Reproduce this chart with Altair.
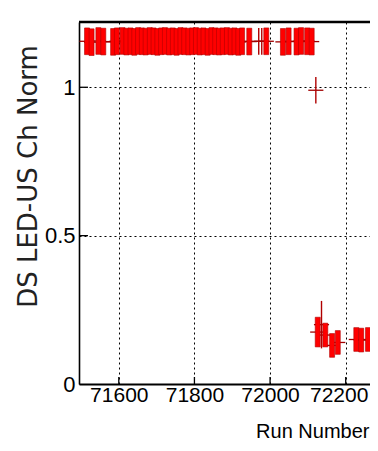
import altair as alt
import pandas as pd

# ---- data ----
# filled (box) points, upper band
top_runs = [71516, 71528, 71546, 71559, 71585, 71595,
            71610, 71620, 71631, 71641, 71651, 71661, 71671, 71682, 71692, 71702,
            71712, 71722, 71733, 71743, 71753, 71763, 71773, 71784, 71794, 71804,
            71814, 71824, 71835, 71845, 71855, 71865, 71875, 71886, 71896, 71906,
            71916, 71926, 71945, 71990, 72034, 72049, 72070, 72082, 72098, 72110]
top_vals = [1.155, 1.152, 1.156, 1.154, 1.153, 1.155,
            1.156, 1.154, 1.155, 1.153, 1.156, 1.155, 1.154, 1.156, 1.155, 1.153,
            1.155, 1.156, 1.154, 1.155, 1.153, 1.156, 1.155, 1.154, 1.155, 1.156,
            1.154, 1.155, 1.153, 1.156, 1.155, 1.154, 1.155, 1.156, 1.154, 1.155,
            1.153, 1.155, 1.154, 1.155, 1.153, 1.155, 1.154, 1.156, 1.155, 1.154]
top_errs = [0.045] * len(top_runs)

# filled (box) points, lower group
low_runs = [72126, 72146, 72164, 72179, 72228, 72241, 72259]
low_vals = [0.175, 0.165, 0.13, 0.14, 0.15, 0.148, 0.15]
low_errs = [0.05, 0.04, 0.04, 0.04, 0.04, 0.04, 0.04]

# thin cross-only points
cross_runs = [71970, 71978, 72121, 72136]
cross_vals = [1.155, 1.155, 0.99, 0.20]
cross_errs = [0.045, 0.045, 0.045, 0.08]

XERR = 20  # half width of the horizontal error bars (runs)

x_ticks = [71600, 71800, 72000, 72200]
y_ticks = [0, 0.5, 1]

X_DOMAIN = [71508, 72251]
Y_DOMAIN = [0, 1.22]

W, H = 291, 362
LABEL_FONT = "Liberation Sans Narrow, Liberation Sans, Arial"
TITLE_FONT = "DejaVu Sans"

box = pd.DataFrame({
    "run": top_runs + low_runs,
    "val": top_vals + low_vals,
    "err": top_errs + low_errs,
})
box["lo"] = box["val"] - box["err"]
box["hi"] = box["val"] + box["err"]

cross = pd.DataFrame({"run": cross_runs, "val": cross_vals, "err": cross_errs})
cross["lo"] = cross["val"] - cross["err"]
cross["hi"] = cross["val"] + cross["err"]

allpts = pd.concat([box[["run", "val"]], cross[["run", "val"]]], ignore_index=True)
allpts["x0"] = allpts["run"] - XERR
allpts["x1"] = allpts["run"] + XERR

xs = alt.Scale(domain=X_DOMAIN, nice=False, zero=False)
ys = alt.Scale(domain=Y_DOMAIN, nice=False, zero=False)

x_axis = alt.Axis(
    values=x_ticks, format="d", grid=True, gridDash=[2, 3], gridColor="#000",
    gridWidth=1, gridOpacity=1, ticks=False, tickSize=0, domainColor="#000",
    domainWidth=2, labelFont=LABEL_FONT, labelFontSize=21, labelColor="#000",
    labelPadding=0, labelFlush=False,
    labelOffset={"condition": {"test": f"datum.value == {x_ticks[-1]}", "value": -7}, "value": 0},
    title="Run Number", titleFont=LABEL_FONT, titleFontSize=20,
    titleFontWeight="normal", titleColor="#000", titleAnchor="end",
    titleAlign="right", titleBaseline="alphabetic", titleX=W - 1, titleY=53,
)
y_axis = alt.Axis(
    values=y_ticks, format="~g", grid=True, gridDash=[2, 3], gridColor="#000",
    gridWidth=1, gridOpacity=1, ticks=False, tickSize=0, domainColor="#000",
    domainWidth=1.6, labelFont=LABEL_FONT, labelFontSize=22, labelColor="#000",
    labelPadding=4, labelFlush=False,
    title="DS LED-US Ch Norm", titleFont=TITLE_FONT, titleFontSize=26,
    titleFontWeight="normal", titleColor="#222", titleAngle=270,
    titleAlign="center", titleBaseline="middle", titleX=-51, titleY=154,
)

hbars = alt.Chart(allpts).mark_rule(color="#a00000", strokeWidth=1.3, clip=True).encode(
    x=alt.X("x0:Q", scale=xs, axis=x_axis),
    x2="x1:Q",
    y=alt.Y("val:Q", scale=ys, axis=y_axis),
)

boxes = alt.Chart(box).mark_bar(
    size=5, color="#ff0000", stroke="#b00000", strokeWidth=0.6, clip=True
).encode(
    x=alt.X("run:Q", scale=xs),
    y=alt.Y("lo:Q", scale=ys),
    y2="hi:Q",
)

vcross = alt.Chart(cross).mark_rule(color="#b00000", strokeWidth=1.4, clip=True).encode(
    x=alt.X("run:Q", scale=xs),
    y=alt.Y("lo:Q", scale=ys),
    y2="hi:Q",
)

ytick_df = pd.DataFrame({"v": y_ticks[1:]})
yticks = alt.Chart(ytick_df).mark_rule(color="#000", strokeWidth=1.3).encode(
    y=alt.Y("v:Q", scale=ys), x=alt.value(0), x2=alt.value(9)
)
xtick_df = pd.DataFrame({"v": x_ticks})
xticks = alt.Chart(xtick_df).mark_rule(color="#000", strokeWidth=1.3).encode(
    x=alt.X("v:Q", scale=xs), y=alt.value(H), y2=alt.value(H - 7)
)

frame = alt.Chart(pd.DataFrame({"a": [0]})).mark_rule(color="#000", strokeWidth=2.5).encode(
    x=alt.value(0), x2=alt.value(W), y=alt.value(0)
)

chart = alt.layer(hbars, boxes, vcross, yticks, xticks, frame).properties(
    width=W, height=H,
    autosize=alt.AutoSizeParams(type="none"),
    padding={"left": 71, "top": 14, "right": 0, "bottom": 59},
    background="white",
).configure_view(stroke=None)

chart.save("out.html", embed_options={"renderer": "svg", "actions": False})
